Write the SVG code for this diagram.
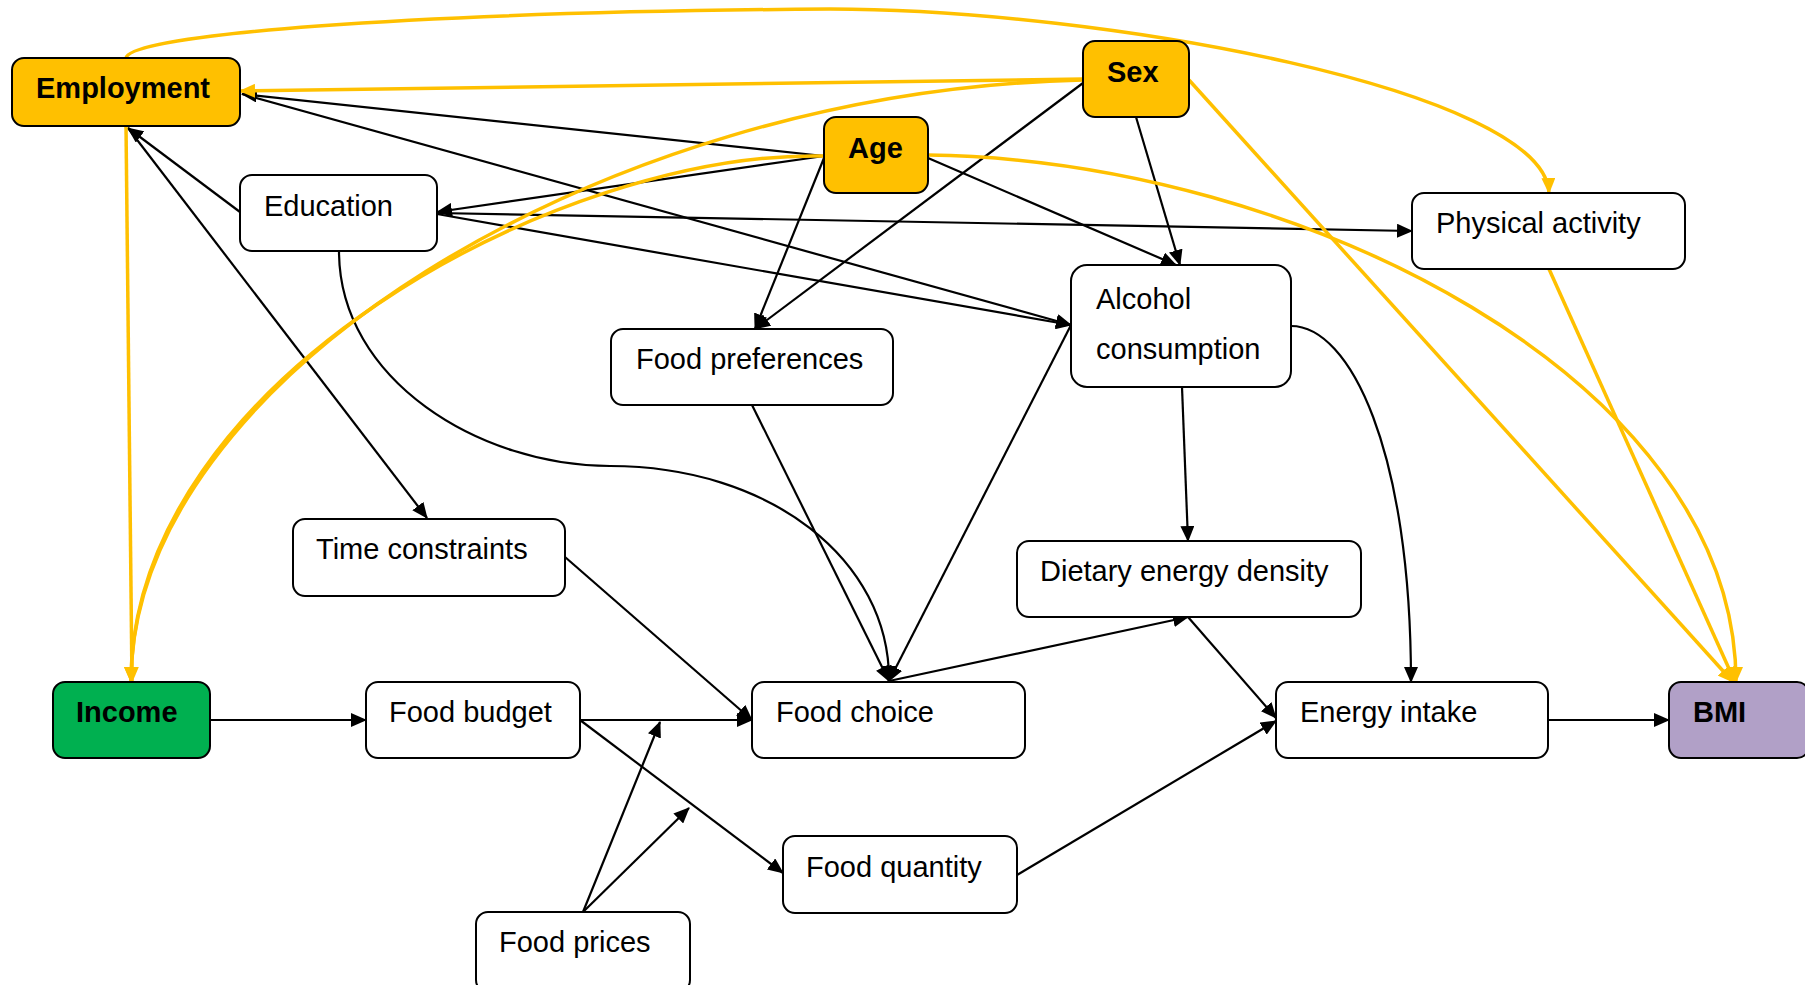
<svg xmlns="http://www.w3.org/2000/svg" width="1805" height="985" viewBox="0 0 1805 985">
<style>
.box{fill:#fff;stroke:#000;stroke-width:2}
.conf{fill:#FFC000;stroke:#000;stroke-width:2}
.inc{fill:#00B050;stroke:#000;stroke-width:2}
.out{fill:#B1A0C7;stroke:#000;stroke-width:2}
text{font-family:"Liberation Sans",Arial,sans-serif;font-size:29px;fill:#000}
.b{font-weight:bold}
.k{fill:none;stroke:#000;stroke-width:2.2}
.y{fill:none;stroke:#FFC000;stroke-width:3.5}
</style>
<defs>
<marker id="ak" markerUnits="userSpaceOnUse" markerWidth="16" markerHeight="14" refX="15" refY="7" orient="auto"><path d="M0,0 L16,7 L0,14 z" fill="#000"/></marker>
<marker id="ay" markerUnits="userSpaceOnUse" markerWidth="16" markerHeight="14" refX="15" refY="7" orient="auto"><path d="M0,0 L16,7 L0,14 z" fill="#FFC000"/></marker>
</defs>
<g id="connectors">
<g marker-end="url(#ak)">
<path class="k" d="M240,212 L128,128"/>
<path class="k" d="M128,128 L427,518"/>
<path class="k" d="M824,156 L242,94"/>
<path class="k" d="M242,94 L1071,325"/>
<path class="k" d="M824,156 L437,212"/>
<path class="k" d="M437,213 L1412,231"/>
<path class="k" d="M437,214 L1071,325"/>
<path class="k" d="M824,158 L755,329"/>
<path class="k" d="M1083,83 L755,329"/>
<path class="k" d="M928,158 L1176,265"/>
<path class="k" d="M1136,117 L1180,265"/>
<path class="k" d="M752,405 L889,681"/>
<path class="k" d="M339,251 C339,380 480,466 610,466 C770,466 890,560 889,681"/>
<path class="k" d="M1071,325 L889,681"/>
<path class="k" d="M565,557 L752,720"/>
<path class="k" d="M889,681 L1188,617"/>
<path class="k" d="M1182,387 L1188,541"/>
<path class="k" d="M1188,617 L1276,718"/>
<path class="k" d="M1017,875 L1276,721"/>
<path class="k" d="M1291,326 C1350,326 1411,450 1411,682"/>
<path class="k" d="M1548,720 L1669,720"/>
<path class="k" d="M210,720 L366,720"/>
<path class="k" d="M580,720 L752,720"/>
<path class="k" d="M580,720 L783,873"/>
<path class="k" d="M583,912 L660,722"/>
<path class="k" d="M583,912 L689,808"/>
</g>
<g marker-end="url(#ay)">
<path class="y" d="M126,58 C130,35 400,12 830,9 C1100,9 1545,90 1549,193"/>
<path class="y" d="M1083,79 L240,91"/>
<path class="y" d="M1083,80 C600,90 131,380 131,682"/>
<path class="y" d="M824,156 C560,150 131,380 131,682"/>
<path class="y" d="M126,126 L132,682"/>
<path class="y" d="M928,155 C1300,160 1736,380 1736,682"/>
<path class="y" d="M1189,80 L1733,682"/>
<path class="y" d="M1549,269 L1735,682"/>
</g>
</g>
<g id="employment"><rect class="conf" x="12" y="58" width="228" height="68" rx="12"/><text class="b" x="36" y="98">Employment</text></g>
<g id="sex"><rect class="conf" x="1083" y="41" width="106" height="76" rx="12"/><text class="b" x="1107" y="82">Sex</text></g>
<g id="age"><rect class="conf" x="824" y="117" width="104" height="76" rx="12"/><text class="b" x="848" y="158">Age</text></g>
<g id="education"><rect class="box" x="240" y="175" width="197" height="76" rx="12"/><text x="264" y="216">Education</text></g>
<g id="physical-activity"><rect class="box" x="1412" y="193" width="273" height="76" rx="12"/><text x="1436" y="233">Physical activity</text></g>
<g id="alcohol"><rect class="box" x="1071" y="265" width="220" height="122" rx="16"/><text x="1096" y="309">Alcohol</text><text x="1096" y="359">consumption</text></g>
<g id="food-preferences"><rect class="box" x="611" y="329" width="282" height="76" rx="12"/><text x="636" y="369">Food preferences</text></g>
<g id="time-constraints"><rect class="box" x="293" y="519" width="272" height="77" rx="12"/><text x="316" y="559">Time constraints</text></g>
<g id="dietary-energy-density"><rect class="box" x="1017" y="541" width="344" height="76" rx="12"/><text x="1040" y="581">Dietary energy density</text></g>
<g id="income"><rect class="inc" x="53" y="682" width="157" height="76" rx="12"/><text class="b" x="76" y="722">Income</text></g>
<g id="food-budget"><rect class="box" x="366" y="682" width="214" height="76" rx="12"/><text x="389" y="722">Food budget</text></g>
<g id="food-choice"><rect class="box" x="752" y="682" width="273" height="76" rx="12"/><text x="776" y="722">Food choice</text></g>
<g id="food-quantity"><rect class="box" x="783" y="836" width="234" height="77" rx="12"/><text x="806" y="877">Food quantity</text></g>
<g id="food-prices"><rect class="box" x="476" y="912" width="214" height="80" rx="12"/><text x="499" y="952">Food prices</text></g>
<g id="energy-intake"><rect class="box" x="1276" y="682" width="272" height="76" rx="12"/><text x="1300" y="722">Energy intake</text></g>
<g id="bmi"><rect class="out" x="1669" y="682" width="140" height="76" rx="12"/><text class="b" x="1693" y="722">BMI</text></g>
</svg>
